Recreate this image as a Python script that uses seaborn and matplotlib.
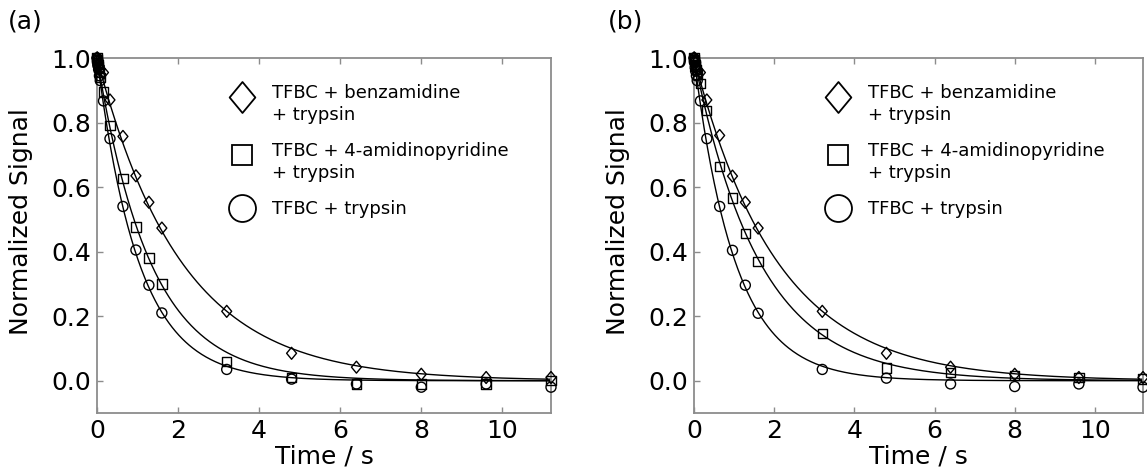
import numpy as np
import pandas as pd
import matplotlib
matplotlib.use("Agg")
import matplotlib.pyplot as plt
from matplotlib.lines import Line2D
from matplotlib.path import Path
from matplotlib.legend_handler import HandlerLine2D
import seaborn as sns

# ---------------- data ----------------
time_s = [0.0, 0.01, 0.02, 0.03, 0.04, 0.06, 0.08, 0.16, 0.32, 0.64, 0.96,
          1.28, 1.6, 3.2, 4.8, 6.4, 8.0, 9.6, 11.2]

# panel (a)
benz_a = [1.0, 1.0, 0.995, 0.99, 0.985, 0.975, 0.965, 0.955, 0.87, 0.757, 0.635,
          0.553, 0.473, 0.215, 0.085, 0.042, 0.02, 0.01, 0.01]
amid_a = [1.0, 0.995, 0.985, 0.98, 0.97, 0.955, 0.94, 0.895, 0.79, 0.627, 0.476,
          0.38, 0.30, 0.06, 0.01, -0.01, -0.01, -0.01, 0.0]
tryp_a = [1.0, 0.99, 0.98, 0.975, 0.965, 0.945, 0.93, 0.867, 0.75, 0.54, 0.405,
          0.296, 0.21, 0.035, 0.005, -0.01, -0.02, -0.01, -0.02]

# panel (b)
benz_b = [1.0, 1.0, 0.995, 0.99, 0.985, 0.975, 0.965, 0.955, 0.87, 0.76, 0.634,
          0.553, 0.473, 0.215, 0.085, 0.042, 0.02, 0.01, 0.01]
amid_b = [1.0, 0.995, 0.99, 0.98, 0.975, 0.965, 0.95, 0.92, 0.838, 0.664, 0.566,
          0.457, 0.37, 0.147, 0.039, 0.026, 0.017, 0.01, 0.005]
tryp_b = [1.0, 0.99, 0.985, 0.97, 0.96, 0.945, 0.93, 0.867, 0.75, 0.54, 0.404,
          0.296, 0.209, 0.035, 0.008, -0.01, -0.018, -0.01, -0.02]

# fitted single-exponential decay rates (1/s) for the drawn fit curves
fit_rate_a = [0.48, 0.76, 0.97]
fit_rate_b = [0.48, 0.61, 0.97]

series_labels = ["TFBC + benzamidine\n+ trypsin",
                 "TFBC + 4-amidinopyridine\n+ trypsin",
                 "TFBC + trypsin"]
panel_labels = ["(a)", "(b)"]
x_ticks = [0, 2, 4, 6, 8, 10]
y_ticks = [0.0, 0.2, 0.4, 0.6, 0.8, 1.0]
x_label = "Time / s"
y_label = "Normalized Signal"

# ---------------- style ----------------
sns.set_theme(style="white")
plt.rcParams["font.family"] = ["DejaVu Sans"]
plt.rcParams["text.color"] = "black"
plt.rcParams["axes.labelcolor"] = "black"
plt.rcParams["xtick.labelcolor"] = "black"
plt.rcParams["ytick.labelcolor"] = "black"


class ShiftHandler(HandlerLine2D):
    def __init__(self, dy=0.0, **kw):
        super().__init__(**kw)
        self._dy = dy

    def create_artists(self, legend, orig_handle, xdescent, ydescent, width,
                       height, fontsize, trans):
        arts = super().create_artists(legend, orig_handle, xdescent, ydescent,
                                      width, height, fontsize, trans)
        for a in arts:
            a.set_ydata(np.asarray(a.get_ydata(), dtype=float) + self._dy)
        return arts


diamond = Path([(0, 1), (0.83, 0), (0, -1), (-0.83, 0), (0, 1)], closed=True)
markers = [diamond, "s", "o"]
marker_s = [74, 45, 52]          # scatter sizes (pt^2)
legend_ms = [22.3, 14.4, 19.4]   # legend marker sizes (pt)
legend_dy = [5.5, 5.5, 0.0]
spine_grey = "#8c8c8c"
FS = 18

fig = plt.figure(figsize=(11.47, 4.72), dpi=100)
W, H = 1147, 472
ax_a = fig.add_axes([97 / W, 1 - 413 / H, (551 - 97) / W, (413 - 58) / H])
ax_b = fig.add_axes([694 / W, 1 - 413 / H, (1143 - 694) / W, (413 - 58) / H])

panels = [
    (ax_a, [benz_a, amid_a, tryp_a], fit_rate_a),
    (ax_b, [benz_b, amid_b, tryp_b], fit_rate_b),
]

t_fit = np.linspace(0, 11.2, 400)

for ax, ys, rates in panels:
    for y, m, s, k in zip(ys, markers, marker_s, rates):
        fit_df = pd.DataFrame({"t": t_fit, "y": np.exp(-k * t_fit)})
        sns.lineplot(data=fit_df, x="t", y="y", color="black", linewidth=1.0,
                     ax=ax, zorder=2)
        df = pd.DataFrame({"t": time_s, "y": y})
        sns.scatterplot(data=df, x="t", y="y", marker=m, s=s, color="black",
                        facecolor="none", edgecolor="black", linewidth=1.0,
                        ax=ax, zorder=3, clip_on=False)
    ax.set_xlim(0, 11.2)
    ax.set_ylim(-0.1, 1.0)
    ax.set_xticks(x_ticks)
    ax.set_yticks(y_ticks)
    ax.set_yticklabels([f"{v:.1f}" for v in y_ticks])
    ax.tick_params(axis="both", which="both", direction="in", length=4,
                   width=1.0, color=spine_grey, labelsize=FS, pad=4,
                   labelcolor="black", top=True, bottom=True, left=True,
                   right=False)
    for sp in ax.spines.values():
        sp.set_color(spine_grey)
        sp.set_linewidth(1.3)
        sp.set_visible(True)
    ax.set_xlabel(x_label, fontsize=FS)
    ax.set_ylabel(y_label, fontsize=FS)
    ax.xaxis.set_label_coords(0.5, -0.09)
    ax.yaxis.set_label_coords(-64 / (ax.get_position().width * W), 0.538)

    handles = [Line2D([], [], linestyle="none", marker=m, markersize=ms,
                      markerfacecolor="none", markeredgecolor="black",
                      markeredgewidth=1.3)
               for m, ms in zip(markers, legend_ms)]
    hmap = {h: ShiftHandler(dy=d) for h, d in zip(handles, legend_dy)}
    leg = ax.legend(handles, series_labels, loc="upper left",
                    bbox_to_anchor=(0.28, 0.927), frameon=False, fontsize=13,
                    borderpad=0, borderaxespad=0, handlelength=2.0,
                    handletextpad=0.65, labelspacing=1.0, handler_map=hmap)
    for t in leg.get_texts():
        t.set_linespacing(1.3)
        t.set_color("black")

fig.text(8 / W, 1 - 9 / H, panel_labels[0], fontsize=FS, va="top", ha="left")
fig.text(608 / W, 1 - 9 / H, panel_labels[1], fontsize=FS, va="top", ha="left")

fig.savefig("out.png", dpi=100)
